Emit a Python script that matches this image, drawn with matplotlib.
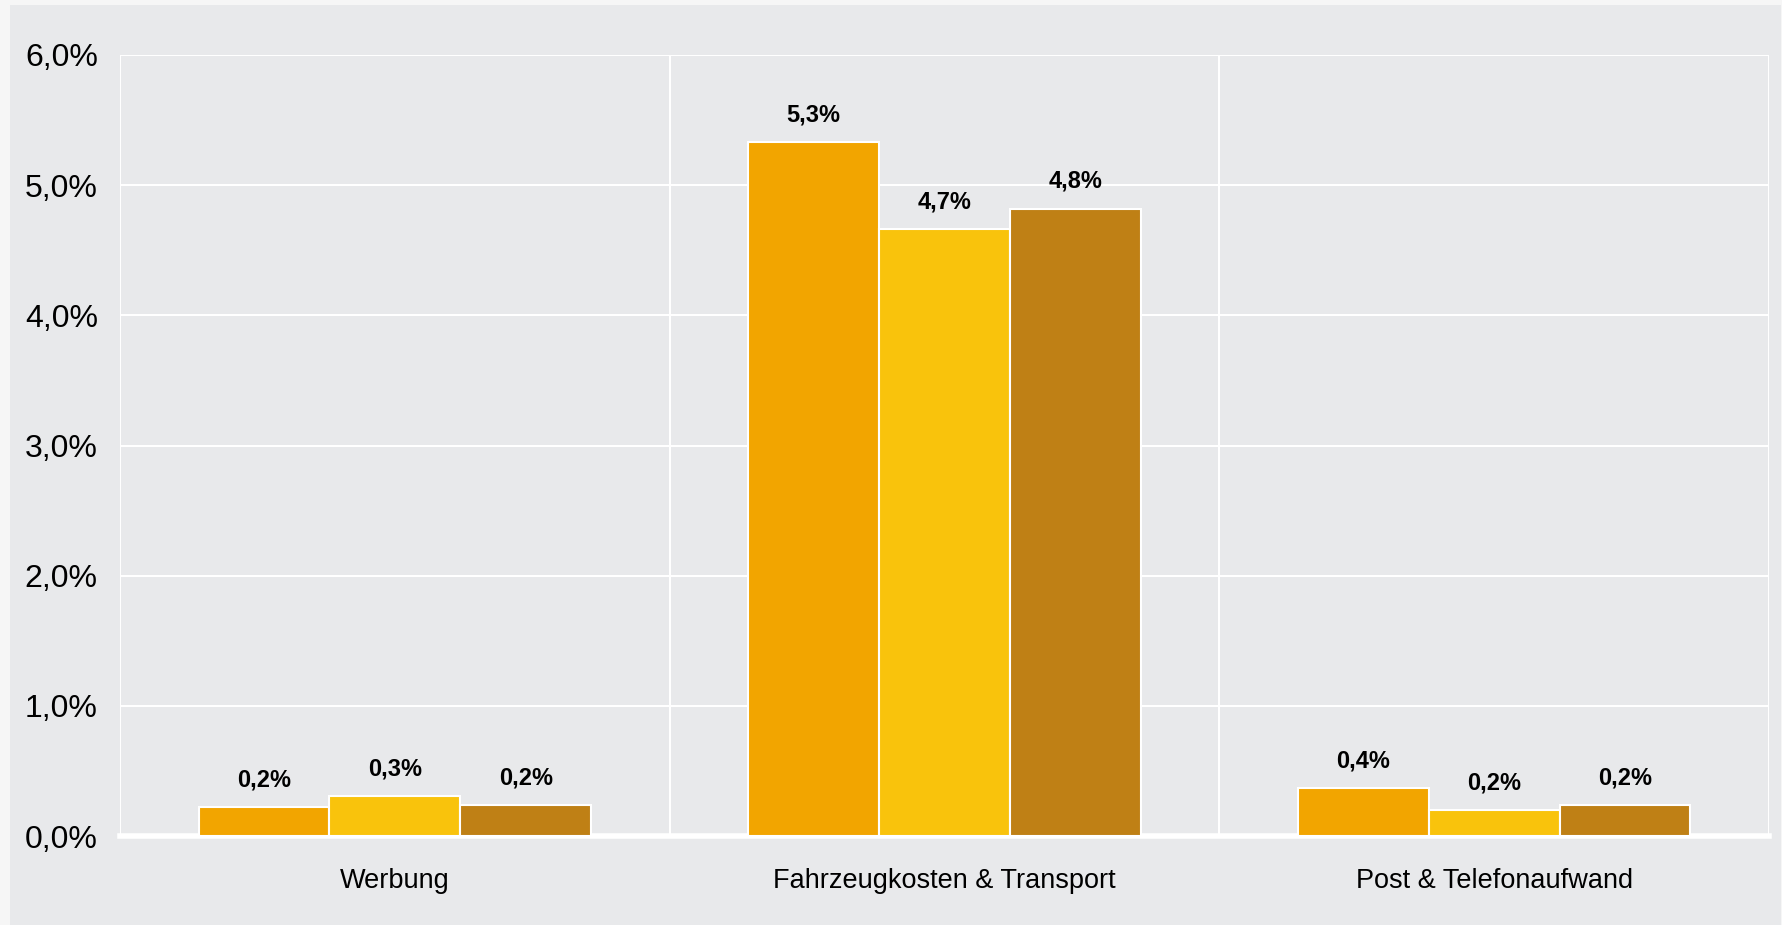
import matplotlib
matplotlib.use("Agg")
import matplotlib.pyplot as plt
from matplotlib.patches import Rectangle
import numpy as np

plt.rcParams['font.family'] = ['Liberation Sans', 'DejaVu Sans']

categories = ["Werbung", "Fahrzeugkosten & Transport", "Post & Telefonaufwand"]
series_a = [0.22, 5.33, 0.37]
series_b = [0.31, 4.66, 0.20]
series_c = [0.24, 4.82, 0.24]
colors = ["#f2a500", "#f9c30c", "#bf8015"]
yticks = [0, 1, 2, 3, 4, 5, 6]

W, H = 1783, 925
fig = plt.figure(figsize=(W / 100, H / 100), dpi=100, facecolor="#f6f6f6")
panel = Rectangle((10 / W, 0), (1781 - 10) / W, (H - 5) / H, transform=fig.transFigure,
                  facecolor="#e8e9eb", edgecolor="none", zorder=-10)
fig.patches.append(panel)

ax = fig.add_axes([120 / W, 1 - 836 / H, (1769 - 120) / W, (836 - 55) / H])
ax.set_facecolor("#e8e9eb")

x = np.arange(len(categories))
bw = 0.238
for i, (vals, c) in enumerate(zip([series_a, series_b, series_c], colors)):
    pos = x + (i - 1) * bw
    ax.bar(pos, vals, width=bw, color=c, edgecolor="white", linewidth=1.5, zorder=3)
    for p, v in zip(pos, vals):
        ax.text(p, v + 0.12, f"{v:.1f}%".replace(".", ","), ha="center", va="bottom",
                fontsize=17, fontweight="bold", color="black", zorder=4)

ax.set_xlim(-0.5, len(categories) - 0.5)
ax.set_ylim(0, 6)
ax.set_yticks(yticks)
ax.set_yticklabels([f"{t:.1f}%".replace(".", ",") for t in yticks], fontsize=23)
ax.set_xticks(x)
ax.set_xticklabels(categories, fontsize=19.5)
ax.set_xticks([-0.5, 0.5, 1.5, 2.5], minor=True)
ax.grid(axis="y", color="white", linewidth=1.5, zorder=1)
ax.grid(axis="x", which="minor", color="white", linewidth=1.5, zorder=1)
ax.set_axisbelow(True)
ax.tick_params(axis="both", which="both", length=0)
ax.tick_params(axis="y", pad=16)
ax.tick_params(axis="x", pad=23)
for s in ["top", "right", "left"]:
    ax.spines[s].set_visible(False)
ax.spines["bottom"].set_color("white")
ax.spines["bottom"].set_linewidth(4)

fig.savefig("out.png", dpi=100, facecolor=fig.get_facecolor())
